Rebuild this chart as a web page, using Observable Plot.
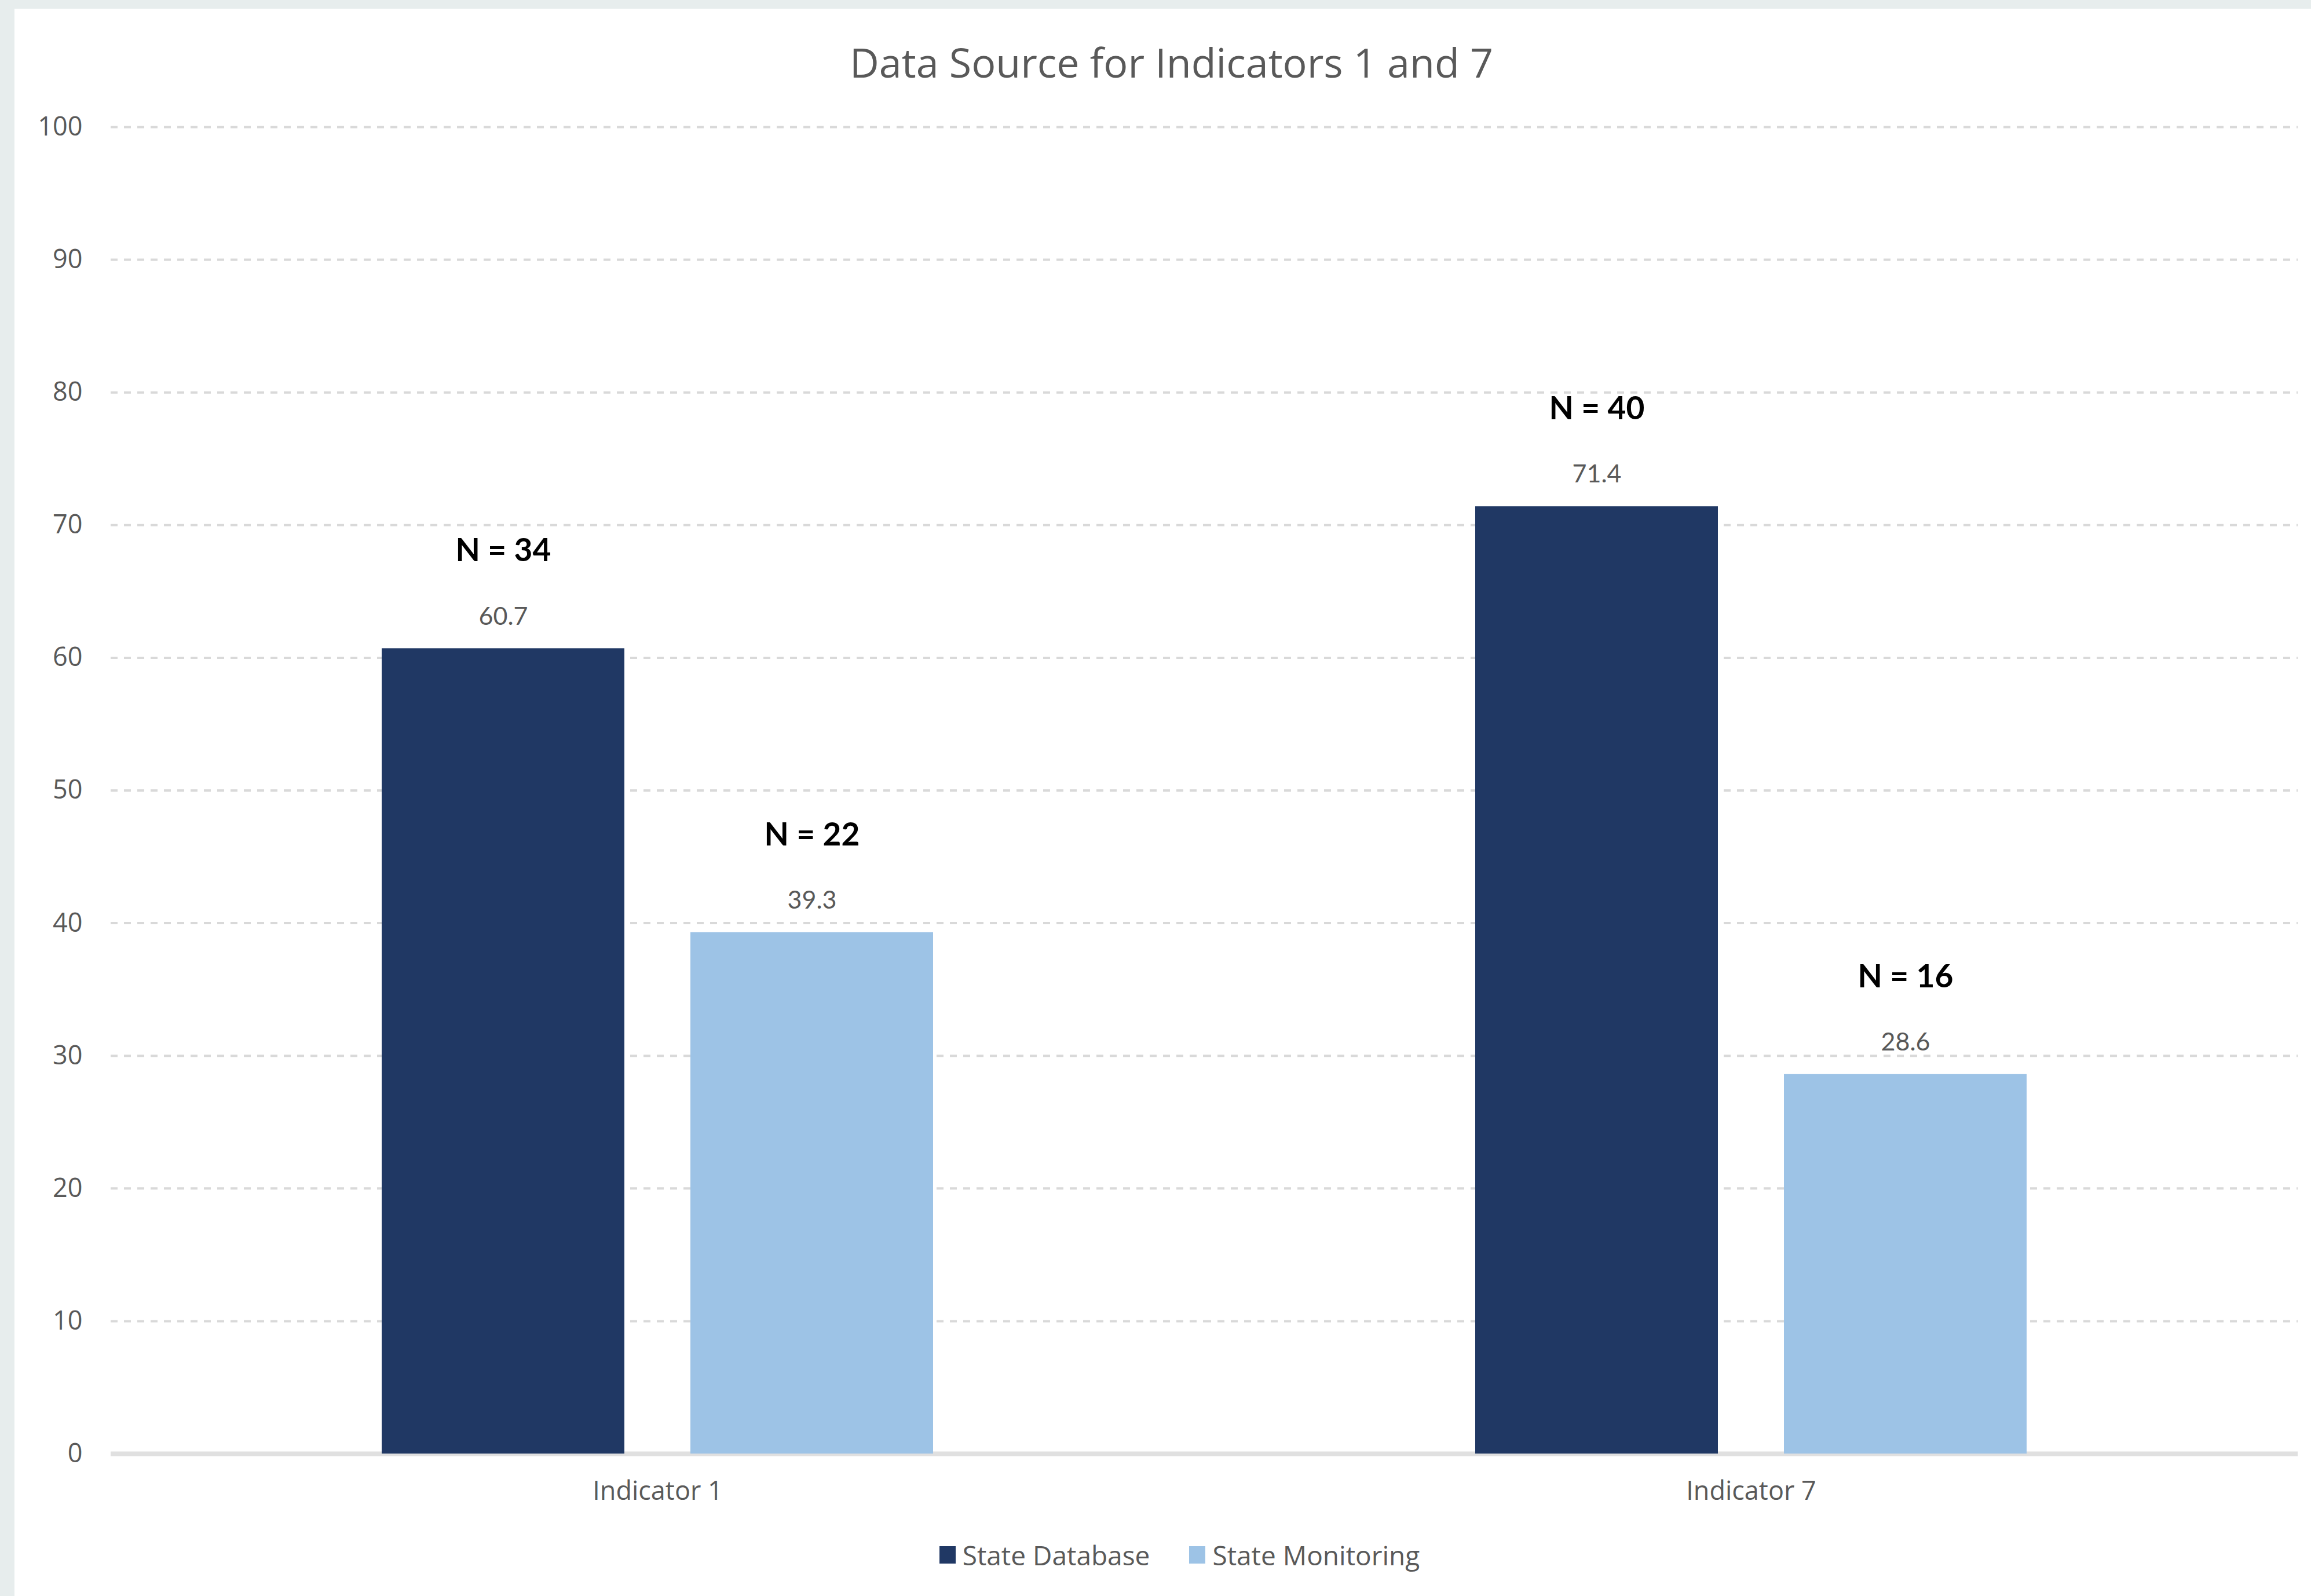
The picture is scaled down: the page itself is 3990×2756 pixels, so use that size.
<!DOCTYPE html>
<html>
<head>
<meta charset="utf-8">
<script src="https://cdn.jsdelivr.net/npm/d3@7"></script>
<script src="https://cdn.jsdelivr.net/npm/@observablehq/plot@0.6"></script>
<style>
  html, body { margin: 0; padding: 0; background: #ffffff; }
  #frame {
    box-sizing: border-box;
    width: 3990px; height: 2756px;
    border-top: 15px solid #e7eded;
    border-left: 25px solid #e7eded;
    background: #ffffff;
    overflow: hidden;
  }
  #title {
    height: 184px; line-height: 184px;
    text-align: center;
    font-family: "Open Sans", sans-serif;
    font-size: 70px;
    color: #595959;
    padding-left: 30px;
  }
  #chart svg { display: block; overflow: visible; }
  #legend {
    height: 130px;
    display: flex; align-items: center; justify-content: center;
    font-family: "Open Sans", sans-serif;
    font-size: 46px; color: #595959;
    padding-left: 58px;
  }
  .item { display: flex; align-items: center; margin: 0 34px; }
  .sw { width: 28px; height: 30px; margin-right: 12px; }
</style>
</head>
<body>
<div id="frame">
  <div id="title">Data Source for Indicators 1 and 7</div>
  <div id="chart"></div>
  <div id="legend"></div>
</div>
<script>
// ---- data ----
const indicators = ["Indicator 1", "Indicator 7"];
const series = ["State Database", "State Monitoring"];
const stateDatabase = [60.7, 71.4];
const stateMonitoring = [39.3, 28.6];
const nDatabase = [34, 40];
const nMonitoring = [22, 16];
const yTicks = [0, 10, 20, 30, 40, 50, 60, 70, 80, 90, 100];
const colors = ["#203864", "#9dc3e6"];

const rows = [];
indicators.forEach((ind, i) => {
  rows.push({indicator: ind, series: series[0], value: stateDatabase[i], n: nDatabase[i]});
  rows.push({indicator: ind, series: series[1], value: stateMonitoring[i], n: nMonitoring[i]});
});

const chart = Plot.plot({
  width: 3965,
  height: 2421,
  marginTop: 20,
  marginLeft: 166,
  marginRight: 23,
  marginBottom: 110,
  style: {fontFamily: "Open Sans, sans-serif", fontSize: "45px", color: "#595959", background: "#ffffff"},
  fx: {domain: indicators, padding: 0, label: null, axis: "bottom", tickSize: 0, tickPadding: 48, fontSize: 47},
  x: {domain: series, paddingInner: 0.2135, paddingOuter: 0.8746, axis: null},
  y: {domain: [0, 100], ticks: yTicks, label: null, tickSize: 0, tickPadding: 49, tickFormat: d => String(d)},
  color: {domain: series, range: colors},
  marks: [
    Plot.gridY(yTicks.filter(d => d > 0), {stroke: "#d9d9d9", strokeOpacity: 1, strokeWidth: 4, strokeDasharray: "12,11"}),
    Plot.ruleY([0], {stroke: "#e0e0e0", strokeWidth: 8}),
    Plot.barY(rows, {fx: "indicator", x: "series", y: "value", fill: "series"}),
    Plot.text(rows, {fx: "indicator", x: "series", y: "value", text: d => d.value.toFixed(1),
      dy: -55, fontSize: 43, fill: "#595959", fontFamily: "Lato, sans-serif"}),
    Plot.text(rows, {fx: "indicator", x: "series", y: "value", text: d => `N = ${d.n}`,
      dy: -168, fontSize: 55, fontWeight: "bold", fill: "#000000", fontFamily: "Lato, sans-serif"})
  ]
});
document.getElementById("chart").appendChild(chart);

const legend = document.getElementById("legend");
series.forEach((s, i) => {
  const item = document.createElement("div");
  item.className = "item";
  const sw = document.createElement("div");
  sw.className = "sw";
  sw.style.background = colors[i];
  const label = document.createElement("span");
  label.textContent = s;
  item.appendChild(sw);
  item.appendChild(label);
  legend.appendChild(item);
});
</script>
</body>
</html>
